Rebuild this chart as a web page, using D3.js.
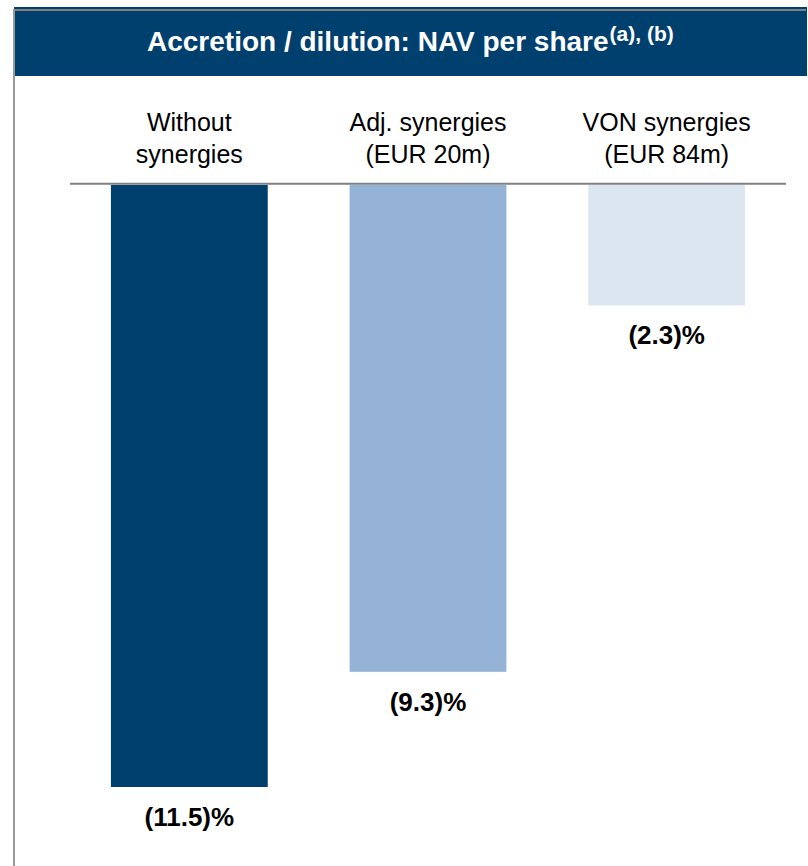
<!DOCTYPE html>
<html>
<head>
<meta charset="utf-8">
<script src="https://cdn.jsdelivr.net/npm/d3@7"></script>
<style>
  body { margin: 0; background: #fff; }
  text { font-family: Arial, "Liberation Sans", sans-serif; }
</style>
</head>
<body>
<svg id="chart" width="808" height="866"></svg>
<script>
// data
var categories = [["Without", "synergies"], ["Adj. synergies", "(EUR 20m)"], ["VON synergies", "(EUR 84m)"]];
var values = [-11.5, -9.3, -2.3];
var title = "Accretion / dilution: NAV per share";
var titleNote = "(a), (b)";

var barColors = ["#00406F", "#95B3D7", "#DCE6F1"];
var navy = "#00406F";

var svg = d3.select("#chart"),
    width = +svg.attr("width"),
    height = +svg.attr("height");

// %%%%%%%%%%%%%%%%%%%%
// % Frame & header   %
// %%%%%%%%%%%%%%%%%%%%

svg.append("rect")
    .attr("x", 14).attr("y", 7)
    .attr("width", 793).attr("height", 69)
    .attr("fill", navy);

// gray edge on top and left of the panel
svg.append("line")
    .attr("x1", 14).attr("x2", 806)
    .attr("y1", 10).attr("y2", 10)
    .attr("stroke", "#7f7f7f").attr("stroke-width", 2);

svg.append("line")
    .attr("x1", 14).attr("x2", 14)
    .attr("y1", 9).attr("y2", height)
    .attr("stroke", "#9a9a9a").attr("stroke-width", 2);

var titleText = svg.append("text")
    .attr("x", 147).attr("y", 51)
    .attr("fill", "#fff")
    .attr("font-weight", "bold")
    .attr("font-size", "28px");

titleText.append("tspan").text(title);
titleText.append("tspan")
    .attr("font-size", "21px")
    .attr("dy", -10)
    .attr("dx", 1)
    .text(titleNote);

// %%%%%%%%%%%%%%%%%%%%
// % Scales           %
// %%%%%%%%%%%%%%%%%%%%

var x = d3.scaleBand()
    .domain(d3.range(categories.length))
    .range([70, 786])
    .paddingInner(0.343)
    .paddingOuter(0.1715);

var y = d3.scaleLinear()
    .domain([-11.5, 0])
    .range([787, 185]);

// %%%%%%%%%%%%%%%%%%%%
// % Bars & labels    %
// %%%%%%%%%%%%%%%%%%%%

svg.append("g")
    .selectAll("rect")
    .data(values)
    .enter()
    .append("rect")
    .attr("x", function (d, i) { return x(i); })
    .attr("y", y(0))
    .attr("width", x.bandwidth())
    .attr("height", function (d) { return y(d) - y(0); })
    .attr("fill", function (d, i) { return barColors[i]; });

// zero line on top of the bars
svg.append("line")
    .attr("x1", x.range()[0]).attr("x2", x.range()[1])
    .attr("y1", y(0) - 1.2).attr("y2", y(0) - 1.2)
    .attr("stroke", "#808080").attr("stroke-width", 2);

svg.append("g")
    .selectAll("text")
    .data(values)
    .enter()
    .append("text")
    .attr("x", function (d, i) { return x(i) + x.bandwidth() / 2; })
    .attr("y", function (d) { return y(d) + 39; })
    .attr("text-anchor", "middle")
    .attr("font-weight", "bold")
    .attr("font-size", "26px")
    .attr("fill", "#000")
    .text(function (d) { return "(" + Math.abs(d).toFixed(1) + ")%"; });

var cat = svg.append("g")
    .selectAll("text")
    .data(categories)
    .enter()
    .append("text")
    .attr("text-anchor", "middle")
    .attr("font-size", "25px")
    .attr("fill", "#000");

cat.selectAll("tspan")
    .data(function (d, i) { return d.map(function (s) { return {s: s, i: i}; }); })
    .enter()
    .append("tspan")
    .attr("x", function (d) { return x(d.i) + x.bandwidth() / 2; })
    .attr("y", function (d, j) { return 131 + j * 32; })
    .text(function (d) { return d.s; });
</script>
</body>
</html>
